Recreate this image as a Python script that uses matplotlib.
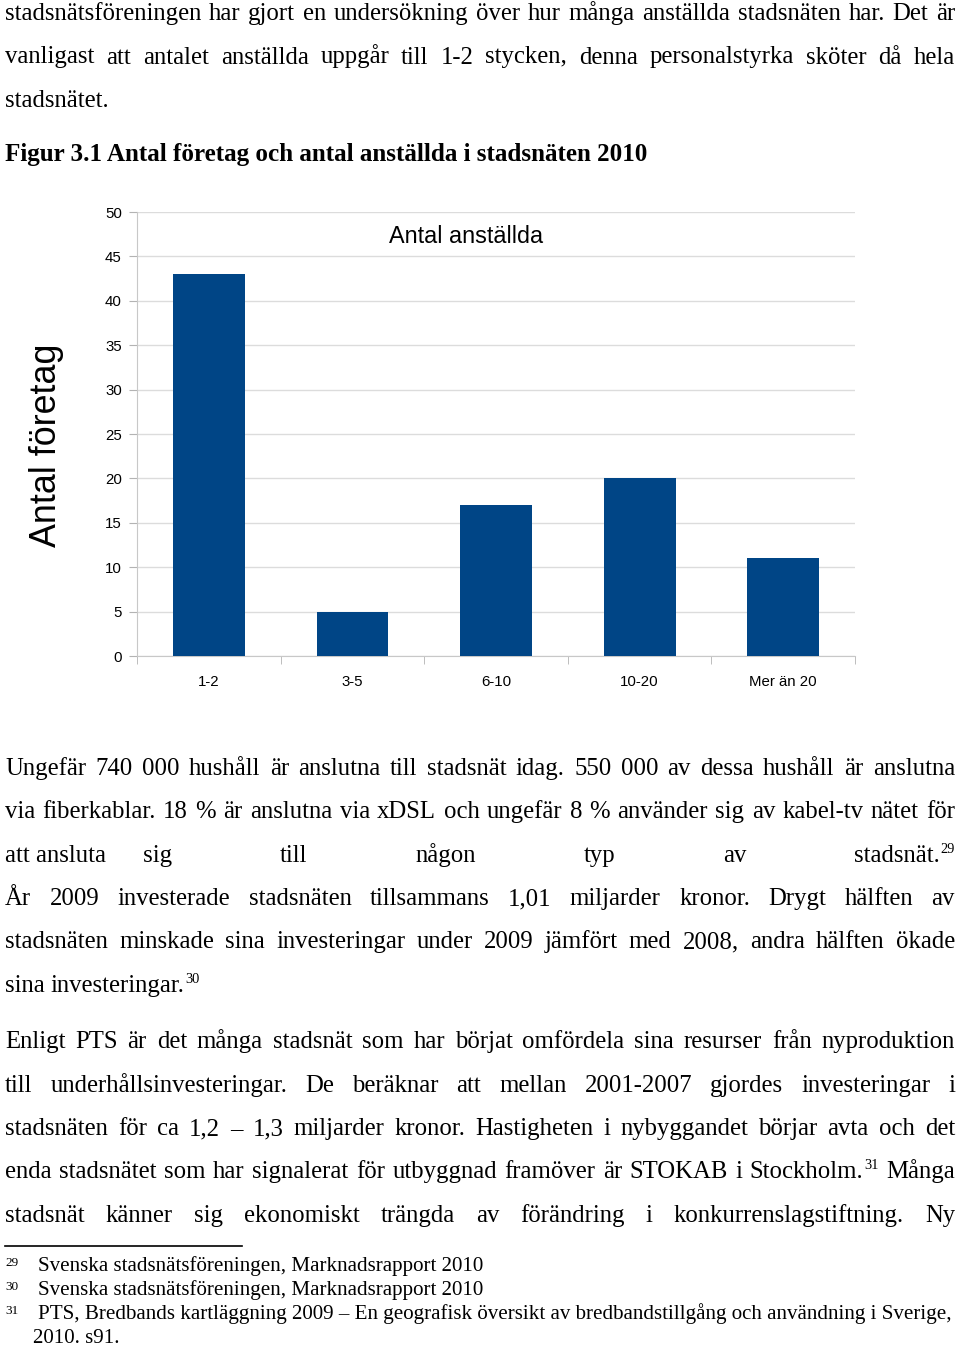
import matplotlib
matplotlib.use('Agg')
import matplotlib.pyplot as plt
from matplotlib.lines import Line2D

# chart data
categories = ['1-2', '3-5', '6-10', '10-20', 'Mer än 20']
counts = [43, 5, 17, 20, 11]
y_ticks = [0, 5, 10, 15, 20, 25, 30, 35, 40, 45, 50]

chart_title = 'Antal anställda'
y_title = 'Antal företag'
caption = 'Figur 3.1 Antal företag och antal anställda i stadsnäten 2010'

# body text, one entry per printed line: (text, justified)
para_top = [
    ('stadsnätsföreningen har gjort en undersökning över hur många anställda stadsnäten har. Det är', True),
    ('vanligast att antalet anställda uppgår till 1-2 stycken, denna personalstyrka sköter då hela', True),
    ('stadsnätet.', False),
]
para_bottom = [
    ('Ungefär 740 000 hushåll är anslutna till stadsnät idag. 550 000 av dessa hushåll är anslutna', True),
    ('via fiberkablar. 18 % är anslutna via xDSL och ungefär 8 % använder sig av kabel-tv nätet för', True),
    ('att\u00a0ansluta\u2003\u2002sig till någon typ av stadsnät.^29', True),
    ('År 2009 investerade stadsnäten tillsammans 1,01 miljarder kronor. Drygt hälften av', True),
    ('stadsnäten minskade sina investeringar under 2009 jämfört med 2008, andra hälften ökade', True),
    ('sina investeringar.^30', False),
    ('Enligt PTS är det många stadsnät som har börjat omfördela sina resurser från nyproduktion', True),
    ('till underhållsinvesteringar. De beräknar att mellan 2001-2007 gjordes investeringar i', True),
    ('stadsnäten för ca 1,2 – 1,3 miljarder kronor. Hastigheten i nybyggandet börjar avta och det', True),
    ('enda stadsnätet som har signalerat för utbyggnad framöver är STOKAB i Stockholm.^31 Många', True),
    ('stadsnät känner sig ekonomiskt trängda av förändring i konkurrenslagstiftning. Ny', True),
]
baselines_top = [20, 63.5, 107]
baselines_bottom = [775, 818, 862, 905, 948, 992, 1048, 1092, 1135, 1178, 1222]

footnote_nums = ['29', '30', '31', '']
footnote_text = [
    'Svenska stadsnätsföreningen, Marknadsrapport 2010',
    'Svenska stadsnätsföreningen, Marknadsrapport 2010',
    'PTS, Bredbands kartläggning 2009 – En geografisk översikt av bredbandstillgång och användning i Sverige,',
    '2010. s91.',
]

W, H = 960, 1347
SERIF = ['Liberation Serif', 'DejaVu Serif']
SANS = ['Liberation Sans', 'DejaVu Sans']
BODY = 17.8

fig = plt.figure(figsize=(W / 100, H / 100), dpi=100)
renderer = fig.canvas.get_renderer()


def px(x, y):
    return x / W, 1 - y / H


def put(x, y, s, **kw):
    return fig.text(*px(x, y), s, va='baseline', **kw)


def width_of(t):
    return t.get_window_extent(renderer).width


def draw_line(text, y, justified, x0=5, x1=955, size=BODY):
    tokens = text.split(' ')
    items = []
    for tok in tokens:
        word, sup = (tok.split('^') + [None])[:2]
        t = put(0, y, word, family=SERIF, fontsize=size)
        w = width_of(t)
        s = None
        if sup:
            s = put(0, y - 9, sup, family=SERIF, fontsize=size * 0.58)
            w += width_of(s) + 1
        items.append((t, s, w))
    total = sum(i[2] for i in items)
    if justified and len(items) > 1:
        gap = (x1 - x0 - total) / (len(items) - 1)
    else:
        gap = size * 0.25 * 100 / 72
    x = x0
    for t, s, w in items:
        t.set_position(px(x, y))
        if s is not None:
            s.set_position(px(x + width_of(t) + 1, y - 9))
        x += w + gap


for (line, just), y in zip(para_top, baselines_top):
    draw_line(line, y, just)
for (line, just), y in zip(para_bottom, baselines_bottom):
    draw_line(line, y, just)

put(5, 161, caption, family=SERIF, fontsize=18.1, fontweight='bold')

# the chart
ax = fig.add_axes([137 / W, 1 - 656 / H, (855 - 137) / W, (656 - 212) / H])
x = list(range(len(categories)))
ax.bar(x, counts, width=0.5, color='#004586', zorder=3)
ax.set_xlim(-0.5, len(categories) - 0.5)
ax.set_ylim(0, 50)
ax.set_yticks(y_ticks)
ax.set_yticklabels([str(v) for v in y_ticks], family=SANS, fontsize=10.8)
ax.set_xticks(x)
ax.set_xticklabels(categories, family=SANS, fontsize=10.8)
ax.set_xticks([i - 0.5 for i in range(len(categories) + 1)], minor=True)
ax.tick_params(axis='x', which='major', length=0, pad=14)
ax.tick_params(axis='x', which='minor', length=6, color='#b3b3b3')
ax.tick_params(axis='y', length=6, color='#b3b3b3', pad=5)
ax.grid(axis='y', color='#dcdcdc', linewidth=1, zorder=0)
for side in ['top', 'right']:
    ax.spines[side].set_visible(False)
for side in ['left', 'bottom']:
    ax.spines[side].set_color('#c8c8c8')
ax.text((466 - 137) / (855 - 137), (656 - 236) / (656 - 212), chart_title,
        transform=ax.transAxes, ha='center', va='center', family=SANS,
        fontsize=16.8, zorder=5,
        bbox=dict(facecolor='white', edgecolor='none', pad=4))

fig.text(*px(47, 445), y_title, rotation=90, ha='center', va='center',
         family=SANS, fontsize=25.8)

# footnotes
fig.add_artist(Line2D([5 / W, 242 / W], [1 - 1246 / H] * 2, color='black',
                      linewidth=1.2, transform=fig.transFigure))
fn_base = [1271, 1295, 1319, 1343]
for num, txt, y in zip(footnote_nums, footnote_text, fn_base):
    if num:
        put(5, y - 5, num, family=SERIF, fontsize=9.5)
        put(38, y, txt, family=SERIF, fontsize=15.1)
    else:
        put(33, y, txt, family=SERIF, fontsize=15.1)

fig.savefig('out.png', dpi=100)
